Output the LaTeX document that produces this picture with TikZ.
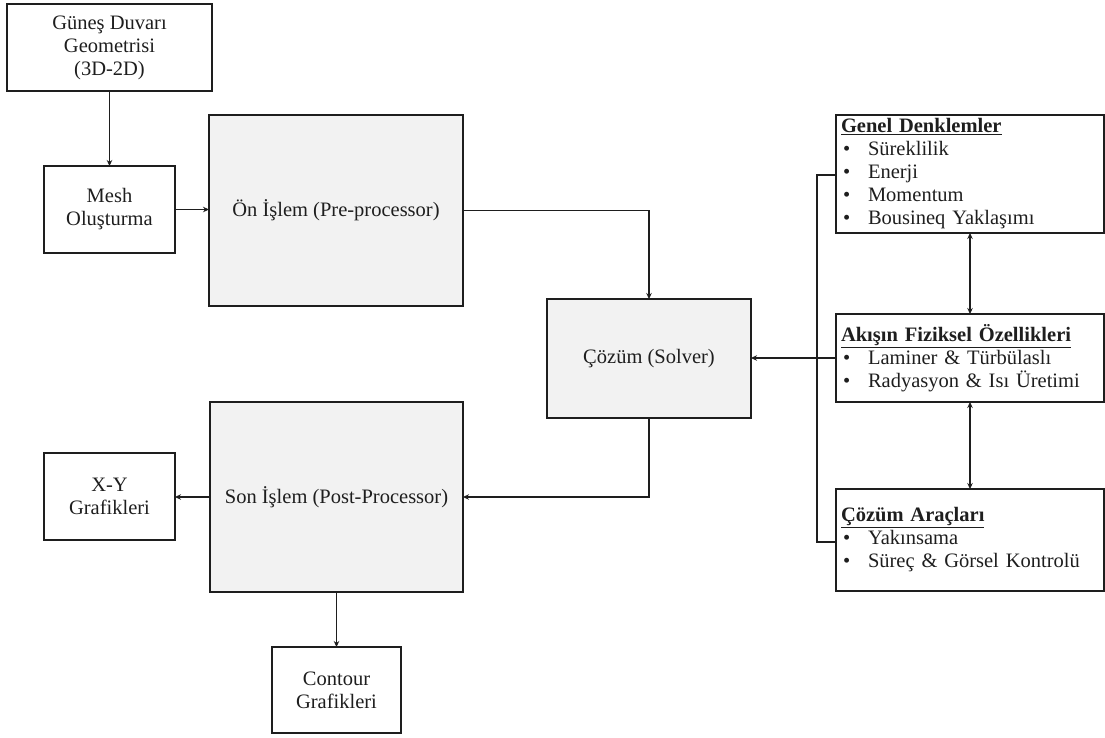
\documentclass[tikz,border=0pt]{standalone}
\usepackage{fontspec}
\setmainfont{Liberation Serif}
\usetikzlibrary{arrows.meta}
\definecolor{procgray}{RGB}{242,242,242}
\definecolor{inkgray}{RGB}{30,30,30}
\newcommand{\itm}{\hspace*{2pt}\makebox[25pt][l]{\textbullet}}
\begin{document}
\begin{tikzpicture}[x=1pt,y=-1pt,
    box/.style={draw=inkgray, line width=1.5pt, align=center, inner sep=0pt, outer sep=0pt,
      text=inkgray, font=\fontsize{20.5}{23}\selectfont},
    procbox/.style={box, fill=procgray},
    listbox/.style={box, align=left, text width=258pt, inner xsep=5pt, minimum width=268pt},
    arr/.style={draw=inkgray, line width=1.3pt, -{Stealth[length=6pt,width=5.5pt]}},
    twoarr/.style={arr, {Stealth[length=6pt,width=5.5pt]}-{Stealth[length=6pt,width=5.5pt]}}]
    \useasboundingbox (0,0) rectangle (1105,737);
    \node[box, minimum width=205pt, minimum height=87pt] (geo) at (109.5,47.5) {Güneş Duvarı\\Geometrisi\\(3D-2D)};
    \node[box, minimum width=131pt, minimum height=87pt] (mesh) at (109.5,209.5) {Mesh\\Oluşturma};
    \node[procbox, minimum width=254pt, minimum height=191pt] (pre) at (336,210.5) {Ön İşlem (Pre-processor)};
    \node[procbox, minimum width=204pt, minimum height=119pt] (solver) at (649,358.5) {Çözüm (Solver)};
    \node[procbox, minimum width=253pt, minimum height=190pt] (post) at (336.5,497) {Son İşlem (Post-Processor)};
    \node[box, minimum width=131pt, minimum height=87pt] (xy) at (109.5,496.5) {X-Y\\Grafikleri};
    \node[box, minimum width=129pt, minimum height=86pt] (contour) at (336.5,690) {Contour\\Grafikleri};
    \node[listbox, minimum height=118pt] (genel) at (970,174)
      {\underline{\textbf{Genel Denklemler}}\\ \itm Süreklilik\\ \itm Enerji\\ \itm Momentum\\ \itm Bousineq Yaklaşımı};
    \node[listbox, minimum height=88pt] (akis) at (970,358)
      {\underline{\textbf{Akışın Fiziksel Özellikleri}}\\ \itm Laminer \& Türbülaslı\\ \itm Radyasyon \& Isı Üretimi};
    \node[listbox, minimum height=102pt] (araclar) at (970,540)
      {\underline{\textbf{Çözüm Araçları}}\\ \itm Yakınsama\\ \itm Süreç \& Görsel Kontrolü};
    \coordinate (busTop) at (817,175);
    \coordinate (busBot) at (817,542);
    \draw[arr] (geo.south) -- (mesh.north);
    \draw[arr] (mesh.east) -- (mesh.east -| pre.west);
    \draw[arr] (pre.east) -| (solver.north);
    \draw[arr] (solver.south) |- (post.east);
    \draw[arr] (post.west) -- (post.west -| xy.east);
    \draw[arr] (post.south) -- (contour.north);
    \draw[arr] (akis.west) -- (akis.west -| solver.east);
    \draw[twoarr] (genel.south) -- (akis.north);
    \draw[twoarr] (akis.south) -- (araclar.north);
    \draw[draw=inkgray, line width=1.3pt] (busTop -| genel.west) -- (busTop) -- (busBot) -- (busBot -| araclar.west);
\end{tikzpicture}
\end{document}
